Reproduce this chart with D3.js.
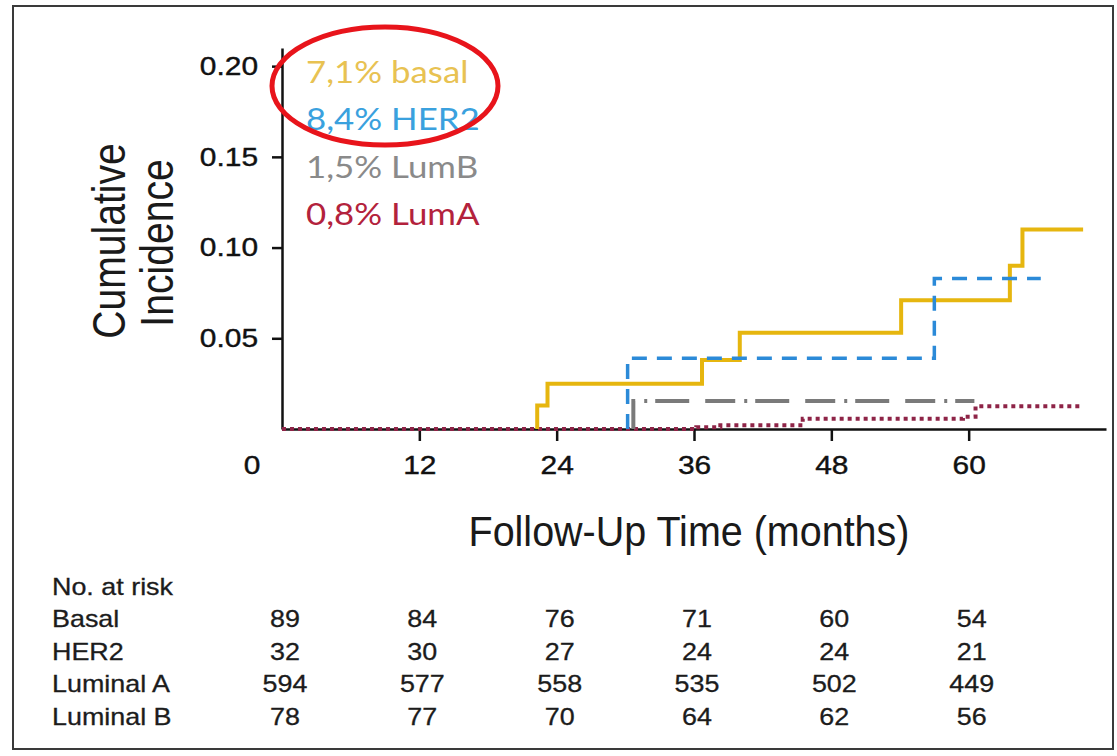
<!DOCTYPE html>
<html>
<head>
<meta charset="utf-8">
<script src="https://cdn.jsdelivr.net/npm/d3@7"></script>
<style>
  body { margin: 0; background: #fff; }
  svg { display: block; }
</style>
</head>
<body>
<script>
// cumulative incidence curves (months, cumulative incidence after each event)
const basalTimes = [22.3, 23.2, 36.7, 40.0, 54.1, 63.6, 64.7];
const basalInc   = [0.013, 0.025, 0.038, 0.053, 0.071, 0.090, 0.110];
const basalEnd   = 70.0;

const her2Times = [30.2, 57.0];
const her2Inc   = [0.039, 0.083];
const her2End   = 66.3;

const lumBTimes = [30.7];
const lumBInc   = [0.0155];
const lumBEnd   = 60.5;

const lumATimes = [36.2, 38.3, 45.5, 59.5, 60.6];
const lumAInc   = [0.001, 0.002, 0.0057, 0.0068, 0.0125];
const lumAEnd   = 69.7;

// legend text
const legendLabels = ["7,1% basal", "8,4% HER2", "1,5% LumB", "0,8% LumA"];

// axis ticks
const xTicks = [12, 24, 36, 48, 60];
const yTicks = [0.05, 0.10, 0.15, 0.20];

// number at risk table
const riskMonths = [0, 12, 24, 36, 48, 60];
const riskGroups = ["Basal", "HER2", "Luminal A", "Luminal B"];
const riskBasal = [89, 84, 76, 71, 60, 54];
const riskHER2  = [32, 30, 27, 24, 24, 21];
const riskLumA  = [594, 577, 558, 535, 502, 449];
const riskLumB  = [78, 77, 70, 64, 62, 56];

const width = 1117, height = 756;
const sans = "'Liberation Sans', Arial, sans-serif";

const svg = d3.select("body").append("svg")
    .attr("width", width)
    .attr("height", height);

// outer frame
svg.append("rect")
    .attr("x", 13).attr("y", 6)
    .attr("width", 1100).attr("height", 743)
    .attr("fill", "#fff")
    .attr("stroke", "#3a3a3a")
    .attr("stroke-width", 2);

const x = d3.scaleLinear().domain([0, 72]).range([282, 1106]);
const y = d3.scaleLinear().domain([0, 0.21]).range([429, 48]);

// stretch text horizontally along its own direction
function stretch(sel, k) {
    sel.each(function() {
        const len = this.getComputedTextLength();
        d3.select(this)
            .attr("textLength", len * k)
            .attr("lengthAdjust", "spacingAndGlyphs");
    });
}

// axes
const yAxis = svg.append("g")
    .attr("transform", `translate(${x(0)},0)`)
    .call(d3.axisLeft(y).tickValues(yTicks).tickSize(10).tickSizeOuter(0)
        .tickPadding(14).tickFormat(d3.format(".2f")));

const xAxis = svg.append("g")
    .attr("transform", `translate(0,${y(0)})`)
    .call(d3.axisBottom(x).tickValues(xTicks).tickSize(12).tickSizeOuter(0)
        .tickPadding(15));

[xAxis, yAxis].forEach(g => {
    g.select(".domain").attr("stroke", "#111").attr("stroke-width", 2.5);
    g.selectAll(".tick line").attr("stroke", "#111").attr("stroke-width", 2.5);
    g.selectAll(".tick text")
        .attr("font-family", sans)
        .attr("font-size", 26)
        .attr("fill", "#111")
        .attr("stroke", "#111")
        .attr("stroke-width", 0.4)
        .call(stretch, 1.15);
});

// origin label sits left of the y axis
svg.append("text")
    .attr("x", x(0) - 30)
    .attr("y", y(0) + 45)
    .attr("text-anchor", "middle")
    .attr("font-family", sans)
    .attr("font-size", 26)
    .attr("fill", "#111")
    .attr("stroke", "#111")
    .attr("stroke-width", 0.4)
    .text("0")
    .call(stretch, 1.15);

// axis titles
svg.append("text")
    .attr("transform", "translate(125,241) rotate(-90)")
    .attr("text-anchor", "middle")
    .attr("font-family", sans)
    .attr("font-size", 46)
    .attr("fill", "#1a1a1a")
    .text("Cumulative")
    .call(stretch, 0.85);

svg.append("text")
    .attr("transform", "translate(173,243) rotate(-90)")
    .attr("text-anchor", "middle")
    .attr("font-family", sans)
    .attr("font-size", 46)
    .attr("fill", "#1a1a1a")
    .text("Incidence")
    .call(stretch, 0.85);

svg.append("text")
    .attr("x", 689)
    .attr("y", 546)
    .attr("text-anchor", "middle")
    .attr("font-family", sans)
    .attr("font-size", 42)
    .attr("fill", "#1a1a1a")
    .text("Follow-Up Time (months)")
    .call(stretch, 0.94);

// curves
function stepPoints(times, inc, end, fromZero) {
    const pts = [[fromZero ? 0 : times[0], 0]];
    times.forEach((t, i) => pts.push([t, inc[i]]));
    pts.push([end, inc[inc.length - 1]]);
    return pts;
}

const line = d3.line()
    .x(d => x(d[0]))
    .y(d => y(d[1]))
    .curve(d3.curveStepAfter);

const curves = [
    {pts: stepPoints(lumATimes, lumAInc, lumAEnd, true), color: "#8e2447", w: 4, dash: "4,4"},
    {pts: stepPoints(lumBTimes, lumBInc, lumBEnd, false), color: "#7a7a7a", w: 4, dash: "30,9,3,8,34,16"},
    {pts: stepPoints(basalTimes, basalInc, basalEnd, false), color: "#e6b60f", w: 4, dash: null},
    {pts: stepPoints(her2Times, her2Inc, her2End, false), color: "#2b8ad8", w: 3.5, dash: "15,10"}
];

svg.append("g").selectAll("path")
    .data(curves)
    .join("path")
    .attr("d", d => line(d.pts))
    .attr("fill", "none")
    .attr("stroke", d => d.color)
    .attr("stroke-width", d => d.w)
    .attr("stroke-dasharray", d => d.dash);

// legend
const legendColors = ["#e8c252", "#3aa1de", "#8a8a8a", "#b3223c"];
svg.append("g").selectAll("text")
    .data(legendLabels)
    .join("text")
    .attr("x", 306)
    .attr("y", (d, i) => 83 + i * 47.3)
    .attr("font-family", "Lato, 'Open Sans', sans-serif")
    .attr("font-size", 30)
    .attr("fill", (d, i) => legendColors[i])
    .text(d => d)
    .call(stretch, 1.16);

// red highlight ellipse
svg.append("ellipse")
    .attr("cx", 385).attr("cy", 86)
    .attr("rx", 113).attr("ry", 59)
    .attr("fill", "none")
    .attr("stroke", "#e8141b")
    .attr("stroke-width", 5);

// number at risk table
const riskValues = [riskBasal, riskHER2, riskLumA, riskLumB];
const rowY = i => 595 + i * 32.4;

const table = svg.append("g")
    .attr("font-family", sans)
    .attr("font-size", 24)
    .attr("fill", "#1c1c1c")
    .attr("stroke", "#1c1c1c")
    .attr("stroke-width", 0.3);

table.append("text")
    .attr("x", 52).attr("y", rowY(0))
    .text("No. at risk")
    .call(stretch, 1.12);

riskGroups.forEach((g, i) => {
    table.append("text")
        .attr("x", 52).attr("y", rowY(i + 1))
        .text(g)
        .call(stretch, 1.12);
    table.selectAll(null)
        .data(riskValues[i])
        .join("text")
        .attr("x", (d, j) => x(riskMonths[j]) + 3)
        .attr("y", rowY(i + 1))
        .attr("text-anchor", "middle")
        .text(d => d)
        .call(stretch, 1.12);
});
</script>
</body>
</html>
